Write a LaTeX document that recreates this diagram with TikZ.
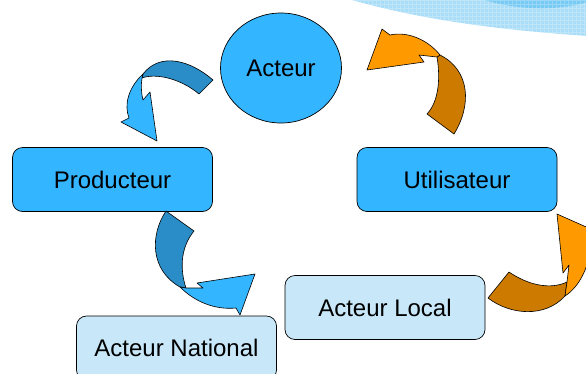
\documentclass[tikz,border=0pt]{standalone}
\usepackage{fontspec}
\setmainfont{Liberation Sans}
\usetikzlibrary{shapes.geometric}
\definecolor{boxblue}{RGB}{51,181,255}
\definecolor{paleblue}{RGB}{200,232,250}
\definecolor{deepblue}{RGB}{42,141,199}
\definecolor{amber}{RGB}{255,153,0}
\definecolor{darkamber}{RGB}{204,122,0}
\definecolor{swooshlight}{RGB}{170,221,247}
\definecolor{swooshdark}{RGB}{118,202,243}

\begin{document}
\begin{tikzpicture}[x=1pt,y=-1pt,
  every node/.style={font=\fontsize{24pt}{28pt}\selectfont, text=black,
    text height=17pt, text depth=0pt, inner sep=0pt},
  rolebox/.style={draw=black, line width=0.7pt, rounded corners=10pt,
    minimum width=200pt, minimum height=64pt},
  ribbon/.style={draw=black, line width=0.6pt, line join=round}]

\useasboundingbox (0,0) rectangle (586,373);
\clip (0,0) rectangle (586,373);

% decorative swoosh along the top edge
\fill[swooshlight] (345,-2) .. controls (420,20) and (500,30) .. (588,36)
  -- (588,-2) -- cycle;
\fill[swooshdark] (478,-2) .. controls (520,12) and (560,10) .. (588,2)
  -- (588,-2) -- cycle;
\begin{scope}
  \clip (345,-2) .. controls (420,20) and (500,30) .. (588,36) -- (588,-2) -- cycle;
  \draw[white, opacity=0.25, line width=0.4pt, step=4pt] (340,-4) grid (590,40);
\end{scope}

% actors
\node[ellipse, draw=black, line width=0.7pt, fill=boxblue,
  minimum width=121pt, minimum height=110pt] (acteur) at (281,68) {Acteur};
\node[rolebox, fill=boxblue] (producteur) at (112.5,179.5) {Producteur};
\node[rolebox, fill=boxblue] (utilisateur) at (457,179.5) {Utilisateur};
\node[rolebox, fill=paleblue] (local) at (385,307.5) {Acteur Local};
\node[rolebox, fill=paleblue] (national) at (176.5,348) {Acteur National};

% curved arrow: Acteur -> Producteur
\filldraw[ribbon, fill=deepblue] (213,80) .. controls (190,60) and (160,52) .. (143,74)
  -- (142,78) .. controls (155,73) and (180,78) .. (199,94) -- cycle;
\filldraw[ribbon, fill=boxblue] (143,74) .. controls (128,88) and (124,105) .. (129,118)
  -- (121,122) -- (157,141) -- (150,92) -- (143,100)
  .. controls (141,92) and (141,85) .. (142,78) -- cycle;

% curved arrow: Producteur -> Acteur National
\filldraw[ribbon, fill=deepblue] (166,211) .. controls (150,235) and (150,270) .. (180,287)
  -- (186,288) .. controls (180,270) and (180,248) .. (194,231) -- cycle;
\filldraw[ribbon, fill=boxblue] (180,287) .. controls (195,302) and (215,310) .. (236,308)
  -- (240,315) -- (255,274) -- (197,283) -- (203,288) -- (186,288) -- cycle;

% curved arrow: Acteur Local -> Utilisateur
\filldraw[ribbon, fill=darkamber] (509,272) .. controls (528,285) and (550,290) .. (567,282)
  -- (565,296) .. controls (545,318) and (510,315) .. (488,298) -- cycle;
\filldraw[ribbon, fill=amber] (567,282) -- (569,265) -- (563,273) -- (557,214)
  -- (602,234) -- (591,247) .. controls (588,268) and (580,286) .. (565,296) -- cycle;

% curved arrow: Utilisateur -> Acteur
\filldraw[ribbon, fill=darkamber] (454,134) .. controls (472,105) and (470,70) .. (440,55)
  -- (437,57) .. controls (440,75) and (440,100) .. (427,114) -- cycle;
\filldraw[ribbon, fill=amber] (440,55) .. controls (428,40) and (408,31) .. (390,35)
  -- (382,29) -- (367,70) -- (424,62) -- (419,55) -- (437,57) -- cycle;

\end{tikzpicture}
\end{document}
